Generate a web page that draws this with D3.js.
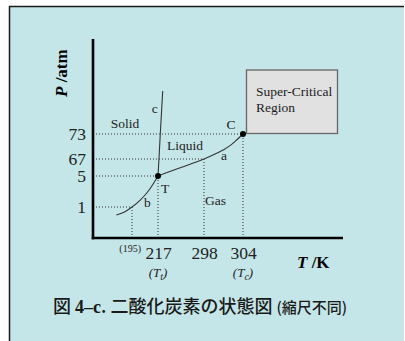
<!DOCTYPE html>
<html>
<head>
<meta charset="utf-8">
<script src="https://cdn.jsdelivr.net/npm/d3@7"></script>
<style>
  html, body { margin: 0; padding: 0; background: #fff; }
  svg { display: block; }
</style>
</head>
<body>
<svg id="chart" width="405" height="341"></svg>
<script>
// Phase diagram of CO2 (schematic, not to scale)
const tempTicks = [217, 298, 304];
const tempMinor = 195;
const pressTicks = [1, 5, 67, 73];

// Sublimation curve (solid / gas), T in K, P in atm
const sublimT = [177, 187, 195, 202, 208, 213, 217];
const sublimP = [0.74, 0.85, 1, 1.9, 2.9, 4.0, 5];
// Vaporization curve (liquid / gas), triple point to critical point
const vaporT = [217, 238, 257.5, 277, 298, 299.7, 301.1, 302, 302.9, 304];
const vaporP = [5, 21.4, 36, 50.6, 67, 68.2, 69.3, 70.2, 71.4, 73];
// Melting curve (solid / liquid)
const meltT = [217, 219.1, 221.1, 223.2, 225.3];
const meltP = [5, 68, 74.3, 102.4, 130.5];

const triplePoint = { T: 217, P: 5 };
const criticalPoint = { T: 304, P: 73 };
const guidePoints = [
  { T: 195, P: 1 }, { T: 217, P: 5 }, { T: 298, P: 67 }, { T: 304, P: 73 }
];

const svg = d3.select("#chart");
const serif = "'Liberation Serif', 'Times New Roman', serif";
const ink = "#222";

// Panel background with its frame on the top and left
svg.append("rect").attr("x", 9).attr("y", 6).attr("width", 395).attr("height", 335)
  .attr("fill", "#c5e6e8");
svg.append("path").attr("d", "M9.5,341V6.5H404")
  .attr("fill", "none").attr("stroke", "#1a1a1a").attr("stroke-width", 1.5);

// Piecewise scales: the diagram is schematic, so each interval has its own stretch
const x = d3.scaleLinear()
  .domain([150, 195, 217, 298, 304, 400])
  .range([93, 132, 158, 204, 243, 343]);
const y = d3.scaleLinear()
  .domain([0, 1, 5, 67, 73, 200])
  .range([238, 207, 176, 159, 134, 39]);

// Dotted guide lines to both axes
const guides = svg.append("g").attr("stroke", "#333").attr("stroke-width", 1)
  .attr("stroke-dasharray", "1,2").attr("fill", "none");
guidePoints.forEach(p => {
  guides.append("line").attr("x1", x(150)).attr("x2", x(p.T))
    .attr("y1", y(p.P)).attr("y2", y(p.P));
  guides.append("line").attr("x1", x(p.T)).attr("x2", x(p.T))
    .attr("y1", y(0)).attr("y2", y(p.P));
});

// Axes
const yAxis = d3.axisLeft(y).tickValues(pressTicks).tickSize(0).tickPadding(7);
const gy = svg.append("g").attr("transform", `translate(${x(150)},0)`).call(yAxis);
const xAxis = d3.axisBottom(x).tickValues(tempTicks).tickSize(0).tickPadding(9);
const gx = svg.append("g").attr("transform", `translate(0,${y(0)})`).call(xAxis);
[gx, gy].forEach(g => {
  g.select(".domain").attr("stroke", "#000").attr("stroke-width", 2.6);
  g.selectAll("text").attr("font-family", serif).attr("font-size", 17.5).attr("fill", ink);
});
gx.select(".domain").attr("d", `M${x(150) - 1.3},0H${x(400)}`);
gy.select(".domain").attr("d", `M0,${y(200)}V${y(0) + 1.3}`);

// Phase boundary curves
const line = d3.line().x(d => x(d[0])).y(d => y(d[1])).curve(d3.curveCatmullRom);
const curves = [d3.zip(sublimT, sublimP), d3.zip(vaporT, vaporP), d3.zip(meltT, meltP)];
svg.append("g").selectAll("path").data(curves).join("path")
  .attr("d", line).attr("fill", "none").attr("stroke", "#333").attr("stroke-width", 1.1);

// Super-critical region box, anchored at the critical point
const cx = x(criticalPoint.T), cy = y(criticalPoint.P);
svg.append("rect").attr("x", cx + 3.5).attr("y", cy - 64).attr("width", 91).attr("height", 63.5)
  .attr("fill", "#e1e1e1").attr("stroke", "#666").attr("stroke-width", 1.3);
svg.append("text").attr("x", cx + 13).attr("y", cy - 38.5)
  .attr("font-family", serif).attr("font-size", 13.5).attr("fill", ink).text("Super-Critical");
svg.append("text").attr("x", cx + 13).attr("y", cy - 22)
  .attr("font-family", serif).attr("font-size", 13.5).attr("fill", ink).text("Region");

// Triple and critical points
svg.selectAll("circle.pt").data([triplePoint, criticalPoint]).join("circle")
  .attr("class", "pt").attr("cx", d => x(d.T)).attr("cy", d => y(d.P)).attr("r", 3)
  .attr("fill", "#000");

// Region and curve labels
const labels = [
  { t: "Solid", x: 110.7, y: 127.7 },
  { t: "c", x: 151.7, y: 113 },
  { t: "C", x: 226.5, y: 129 },
  { t: "Liquid", x: 167, y: 150 },
  { t: "a", x: 221, y: 159.5 },
  { t: "T", x: 161, y: 192.5 },
  { t: "Gas", x: 205, y: 205 },
  { t: "b", x: 144, y: 207 }
];
svg.append("g").selectAll("text").data(labels).join("text")
  .attr("x", d => d.x).attr("y", d => d.y)
  .attr("font-family", serif).attr("font-size", 13.5).attr("fill", ink).text(d => d.t);

// Sublimation temperature at 1 atm, in small type
svg.append("text").attr("x", x(tempMinor) + 9).attr("y", 251.5).attr("text-anchor", "end")
  .attr("font-family", serif).attr("font-size", 10).attr("fill", ink).text(`(${tempMinor})`);

// (T_t) and (T_c) under their temperatures
function symbolLabel(T, sub) {
  const t = svg.append("text").attr("x", x(T)).attr("y", 276.5).attr("text-anchor", "middle")
    .attr("font-family", serif).attr("font-size", 13).attr("font-style", "italic").attr("fill", ink);
  t.append("tspan").text("(T");
  t.append("tspan").attr("font-size", 10).attr("dy", 3).text(sub);
  t.append("tspan").attr("dy", -3).text(")");
}
symbolLabel(217, "t");
symbolLabel(304, "c");

// Axis titles
const xt = svg.append("text").attr("x", 297).attr("y", 268)
  .attr("font-family", serif).attr("font-size", 17).attr("font-weight", "bold").attr("fill", "#000");
xt.append("tspan").attr("font-style", "italic").text("T");
xt.append("tspan").text(" /K");

const yt = svg.append("text").attr("transform", "translate(66.5,97) rotate(-90)")
  .attr("font-family", serif).attr("font-size", 17).attr("font-weight", "bold").attr("fill", "#000");
yt.append("tspan").attr("font-style", "italic").text("P");
yt.append("tspan").text(" /atm");

// Caption
const cap = svg.append("text").attr("x", 53).attr("y", 313)
  .attr("font-family", "'Noto Sans CJK JP', sans-serif").attr("font-size", 18)
  .attr("font-weight", 500).attr("fill", "#1a1a1a");
cap.append("tspan").text("図 ");
cap.append("tspan").attr("font-family", serif).attr("font-weight", "bold").attr("font-size", 18).text("4–c");
cap.append("tspan").text(". 二酸化炭素の状態図 ");
cap.append("tspan").attr("font-size", 15).text("(縮尺不同)");
</script>
</body>
</html>
